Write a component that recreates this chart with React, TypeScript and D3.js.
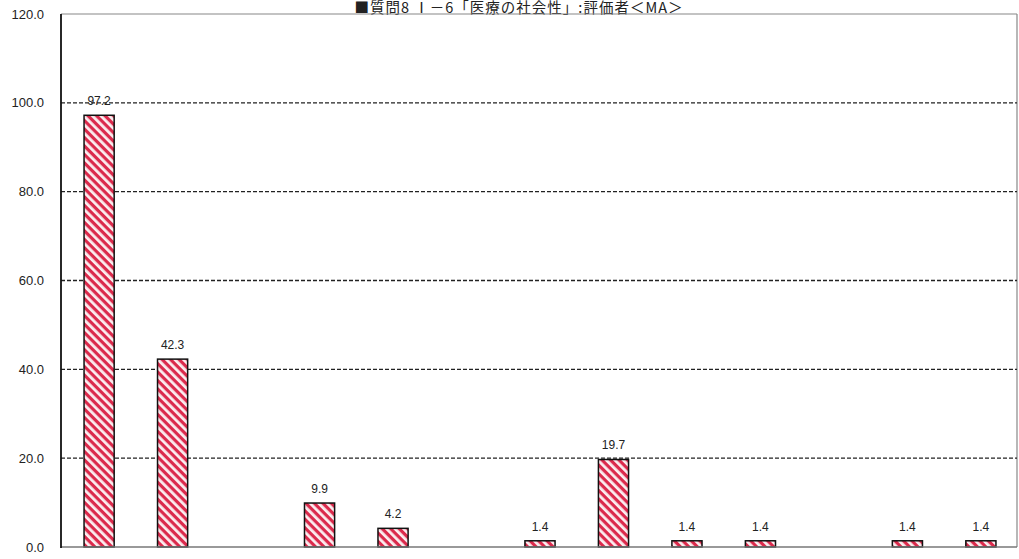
import * as d3 from "d3";

// 13 answer options; empty slots had no answers
const categories = ["1", "2", "3", "4", "5", "6", "7", "8", "9", "10", "11", "12", "13"];
const values: (number | null)[] = [97.2, 42.3, null, 9.9, 4.2, null, 1.4, 19.7, 1.4, 1.4, null, 1.4, 1.4];
const yTicks = [0, 20, 40, 60, 80, 100, 120];
const title = "■質問8 Ⅰ－6「医療の社会性」:評価者＜MA＞";

const W = 1019;
const H = 559;
const margin = { top: 14, right: 1, bottom: 12, left: 62 };

export default function App() {
  const x = d3
    .scaleBand<string>()
    .domain(categories)
    .range([margin.left, W - margin.right])
    .paddingInner(0.59)
    .paddingOuter(0.3);

  const y = d3
    .scaleLinear()
    .domain([0, 120])
    .range([H - margin.bottom, margin.top]);

  const x0 = margin.left - 1;
  const x1 = W - margin.right - 1;

  return (
    <svg
      width={W}
      height={H}
      style={{ position: "absolute", left: 0, top: 0, background: "#fff" }}
      fontFamily="'Liberation Sans', Arial, sans-serif"
    >
      <defs>
        <pattern
          id="stripes"
          patternUnits="userSpaceOnUse"
          width={6}
          height={6}
          patternTransform="rotate(45)"
        >
          <rect width={6} height={6} fill="#fbeef0" />
          <rect width={6} height={3.2} fill="#db2a4c" />
        </pattern>
      </defs>

      {/* title sits at the very top, as in the scan */}
      <text
        x={519}
        y={13}
        textAnchor="middle"
        fontSize={14.5}
        letterSpacing={1}
        fontFamily="'Noto Sans CJK JP', sans-serif"
        fill="#222"
      >
        {title}
      </text>

      {/* frame */}
      <line x1={x0} x2={x1} y1={y(120)} y2={y(120)} stroke="#888" strokeWidth={1.2} />
      <line x1={x1} x2={x1} y1={y(120)} y2={y(0)} stroke="#888" strokeWidth={1.2} />

      {/* gridlines */}
      {yTicks
        .filter((t) => t > 0 && t < 120)
        .map((t) => (
          <line
            key={t}
            x1={x0}
            x2={x1}
            y1={y(t)}
            y2={y(t)}
            stroke="#222"
            strokeWidth={1.3}
            strokeDasharray="4 2"
          />
        ))}

      {/* y tick labels */}
      {yTicks.map((t) => (
        <text
          key={t}
          x={44}
          y={y(t)}
          dy="0.35em"
          textAnchor="end"
          fontSize={13}
          fill="#222"
        >
          {t.toFixed(1)}
        </text>
      ))}

      {/* bars */}
      {categories.map((c, i) => {
        const v = values[i];
        if (v == null) return null;
        const bx = x(c)!;
        return (
          <g key={c}>
            <rect
              x={bx}
              y={y(v)}
              width={x.bandwidth()}
              height={y(0) - y(v)}
              fill="url(#stripes)"
              stroke="#111"
              strokeWidth={1.5}
            />
            <text
              x={bx + x.bandwidth() / 2}
              y={y(v) - 10}
              textAnchor="middle"
              fontSize={12}
              fill="#222"
            >
              {v.toFixed(1)}
            </text>
          </g>
        );
      })}

      {/* axes */}
      <line x1={x0} x2={x1} y1={y(0)} y2={y(0)} stroke="#777" strokeWidth={1.5} />
      <line x1={x0} x2={x0} y1={y(120)} y2={y(0) + 1} stroke="#111" strokeWidth={1.8} />
    </svg>
  );
}
